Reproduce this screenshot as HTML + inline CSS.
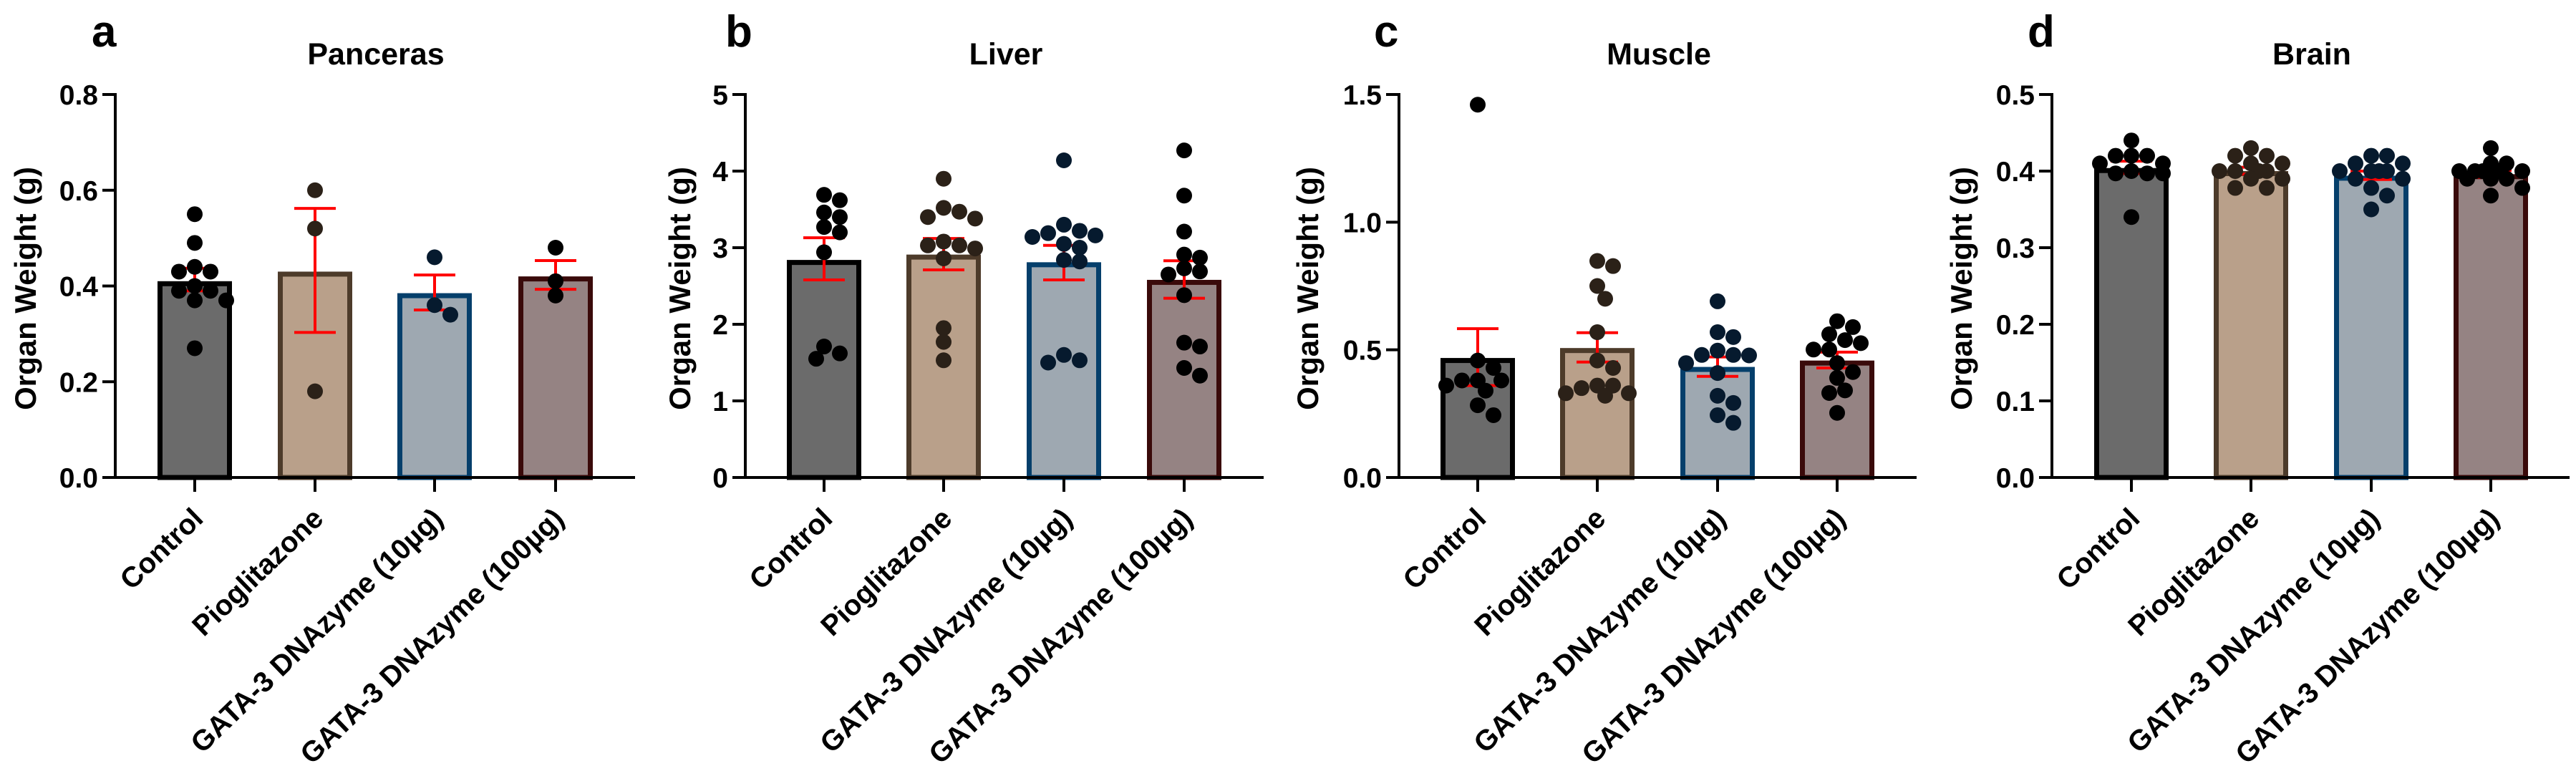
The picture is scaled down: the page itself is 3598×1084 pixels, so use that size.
<!DOCTYPE html>
<html><head><meta charset="utf-8"><style>
html,body{margin:0;padding:0;background:#fff}
svg{display:block}
text{font-family:"Liberation Sans",Arial,sans-serif;font-weight:bold;fill:#000}
</style></head><body>
<svg id="fig" width="3598" height="1084" viewBox="0 0 3598 1084" xmlns="http://www.w3.org/2000/svg"></svg>
<script>
const categories = ["Control","Pioglitazone","GATA-3 DNAzyme (10µg)","GATA-3 DNAzyme (100µg)"];
const panelTitles = ["Panceras","Liver","Muscle","Brain"];
const panelLetters = ["a","b","c","d"];
const yMaxes = [0.8,5,1.5,0.5];
const yTickLabels = [["0.0","0.2","0.4","0.6","0.8"],["0","1","2","3","4","5"],["0.0","0.5","1.0","1.5"],["0.0","0.1","0.2","0.3","0.4","0.5"]];
const yTickValues = [[0,0.2,0.4,0.6,0.8],[0,1,2,3,4,5],[0,0.5,1,1.5],[0,0.1,0.2,0.3,0.4,0.5]];

const pancreasMeans = [0.41,0.43,0.385,0.42];
const pancreasErrLo = [0.39,0.303,0.35,0.393];
const pancreasErrHi = [0.437,0.562,0.423,0.453];
const pancreasPoints = [[0.55,0.49,0.44,0.43,0.43,0.40,0.39,0.39,0.37,0.37,0.27],[0.60,0.52,0.18],[0.46,0.36,0.34],[0.48,0.41,0.38]];

const liverMeans = [2.84,2.91,2.81,2.58];
const liverErrLo = [2.58,2.71,2.58,2.34];
const liverErrHi = [3.13,3.12,3.03,2.83];
const liverPoints = [[3.69,3.62,3.46,3.4,3.27,3.2,2.94,1.71,1.62,1.55],[3.9,3.52,3.47,3.4,3.38,3.08,3.03,3.03,2.99,2.86,1.95,1.77,1.53],[4.14,3.3,3.22,3.19,3.16,3.14,3.05,3.0,2.84,2.82,1.6,1.53,1.5],[4.27,3.68,3.21,2.91,2.87,2.73,2.69,2.65,2.38,1.76,1.71,1.43,1.33]];

const muscleMeans = [0.468,0.507,0.433,0.458];
const muscleErrLo = [0.36,0.452,0.396,0.429];
const muscleErrHi = [0.583,0.567,0.472,0.491];
const musclePoints = [[1.46,0.458,0.429,0.38,0.38,0.38,0.36,0.34,0.283,0.244],[0.848,0.828,0.75,0.70,0.569,0.458,0.429,0.36,0.36,0.35,0.33,0.33,0.32],[0.69,0.569,0.55,0.497,0.48,0.48,0.478,0.448,0.409,0.32,0.292,0.244,0.214],[0.612,0.589,0.561,0.538,0.526,0.501,0.501,0.448,0.413,0.39,0.341,0.331,0.253]];

const brainMeans = [0.404,0.40,0.394,0.396];
const brainErrLo = [0.397,0.396,0.389,0.392];
const brainErrHi = [0.413,0.405,0.400,0.401];
const brainPoints = [[0.44,0.42,0.42,0.42,0.41,0.41,0.40,0.397,0.397,0.397,0.34],[0.43,0.42,0.42,0.41,0.41,0.40,0.40,0.40,0.40,0.39,0.39,0.378,0.378],[0.42,0.42,0.41,0.41,0.40,0.40,0.40,0.40,0.39,0.39,0.378,0.368,0.35],[0.43,0.41,0.41,0.40,0.40,0.40,0.40,0.40,0.39,0.39,0.39,0.378,0.368]];

const allMeans=[pancreasMeans,liverMeans,muscleMeans,brainMeans];
const allLo=[pancreasErrLo,liverErrLo,muscleErrLo,brainErrLo];
const allHi=[pancreasErrHi,liverErrHi,muscleErrHi,brainErrHi];
const allPts=[pancreasPoints,liverPoints,musclePoints,brainPoints];

const layouts=[
 {ax:161,xEnd:887,ticks:[272,440,607,776],title:525,letter:128,ytitle:35},
 {ax:1041,xEnd:1765,ticks:[1151,1318,1486,1654],title:1405,letter:1013,ytitle:949},
 {ax:1954,xEnd:2677,ticks:[2064,2231,2399,2566],title:2317,letter:1919,ytitle:1826},
 {ax:2866,xEnd:3589,ticks:[2977,3144,3312,3479],title:3229,letter:2832,ytitle:2739}
];
const fills=["#6b6b6b","#b9a08a","#9ea8b1","#958383"];
const strokes=["#000000","#4d3b2a","#053f6b","#3a0a0a"];
const dotCols=["#000000","#2b2118","#061a2e","#000000"];
const Y0=667, YTOP=132, R=11, MAXOFF=46;
const NS="http://www.w3.org/2000/svg";
const svg=document.getElementById('fig');
function mk(tag,attrs,parent){const e=document.createElementNS(NS,tag);for(const k in attrs)e.setAttribute(k,attrs[k]);(parent||svg).appendChild(e);return e;}

for(let p=0;p<4;p++){
  const L=layouts[p], max=yMaxes[p];
  const yS=v=>Y0-(v/max)*(Y0-YTOP);
  const g=mk('g',{});
  
  
  const lt=mk('text',{x:L.letter,y:65,'font-size':62},g); lt.textContent=panelLetters[p];
  
  
  const tt=mk('text',{x:L.title,y:90,'font-size':43,'text-anchor':'middle'},g); tt.textContent=panelTitles[p];
  
  
  const yt=mk('text',{x:0,y:0,'font-size':42,'text-anchor':'middle',transform:`translate(${L.ytitle+15},403) rotate(-90)`},g); yt.textContent="Organ Weight (g)";
  
  
  for(let i=0;i<4;i++){
    const cx=L.ticks[i], top=yS(allMeans[p][i]);
    const b=mk('rect',{x:cx-48.5,y:top+3.5,width:97,height:Y0-top-3.5,fill:fills[i],stroke:strokes[i],'stroke-width':7},g);
    
    
  }
  for(let i=0;i<4;i++){
    const cx=L.ticks[i], lo=yS(allLo[p][i]), hi=yS(allHi[p][i]);
    const eg=mk('g',{stroke:'#ff0000','stroke-width':4},g);
    
    
    mk('line',{x1:cx,x2:cx,y1:lo,y2:hi},eg);
    mk('line',{x1:cx-29,x2:cx+29,y1:lo,y2:lo},eg);
    mk('line',{x1:cx-29,x2:cx+29,y1:hi,y2:hi},eg);
  }
  for(let i=0;i<4;i++){
    const cx=L.ticks[i]; const placed=[];
    const vals=allPts[p][i];
    for(const v of vals){
      const y=yS(v); let off=null, best=-1, bestOff=0;
      for(let k=0;k<40;k++){
        const cand=k===0?0:(k%2?1:-1)*Math.ceil(k/2)*11;
        if(Math.abs(cand)>MAXOFF) break;
        const md=placed.length?Math.min(...placed.map(q=>Math.hypot(q[0]-cand,q[1]-y))):1e9;
        if(md>=2*R-3){off=cand;break;}
        if(md>best){best=md;bestOff=cand;}
      }
      if(off===null) off=bestOff;
      placed.push([off,y]);
      const c=mk('circle',{cx:cx+off,cy:y,r:R,fill:dotCols[i]},g);
      
      
    }
  }
  const ya=mk('line',{x1:L.ax,x2:L.ax,y1:YTOP-2,y2:Y0+2,stroke:'#000','stroke-width':4},g);
  
  
  const xa=mk('line',{x1:L.ax-2,x2:L.xEnd,y1:Y0,y2:Y0,stroke:'#000','stroke-width':4},g);
  
  
  yTickValues[p].forEach((v,j)=>{
    const y=yS(v);
    mk('line',{x1:L.ax-18,x2:L.ax,y1:y,y2:y,stroke:'#000','stroke-width':4},g);
    const t=mk('text',{x:L.ax-24,y:y+14,'font-size':39,'text-anchor':'end'},g); t.textContent=yTickLabels[p][j];
    
    
  });
  categories.forEach((c,i)=>{
    const x=L.ticks[i];
    mk('line',{x1:x,x2:x,y1:Y0,y2:Y0+20,stroke:'#000','stroke-width':4},g);
    const t=mk('text',{x:0,y:0,'font-size':40,'text-anchor':'end',transform:`translate(${x+14},${Y0+60}) rotate(-44)`},g); t.textContent=c;
    
    
  });
}
</script>
</body></html>
